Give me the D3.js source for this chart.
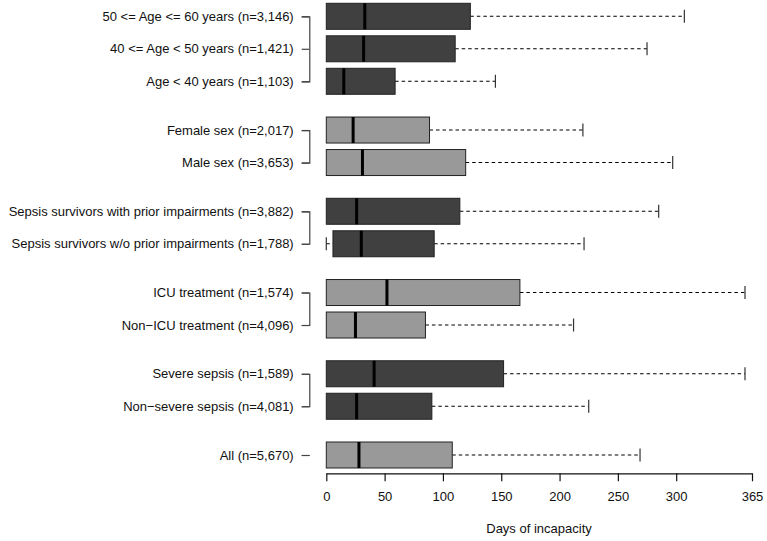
<!DOCTYPE html>
<html>
<head>
<meta charset="utf-8">
<script src="https://cdn.jsdelivr.net/npm/d3@7"></script>
<style>
  body { margin: 0; background: #fff; }
  svg { font-family: "Liberation Sans", Arial, Helvetica, sans-serif; }
</style>
</head>
<body>
<div id="chart-container"></div>
<script>
// row labels, top to bottom
const labels = [
  "50 <= Age <= 60 years (n=3,146)",
  "40 <= Age < 50 years (n=1,421)",
  "Age < 40 years (n=1,103)",
  "Female sex (n=2,017)",
  "Male sex (n=3,653)",
  "Sepsis survivors with prior impairments (n=3,882)",
  "Sepsis survivors w/o prior impairments (n=1,788)",
  "ICU treatment (n=1,574)",
  "Non\u2212ICU treatment (n=4,096)",
  "Severe sepsis (n=1,589)",
  "Non\u2212severe sepsis (n=4,081)",
  "All (n=5,670)"
];
// row slot positions (groups separated by half a slot)
const positions = [0, 1, 2, 3.5, 4.5, 6, 7, 8.5, 9.5, 11, 12, 13.5];
const groups = [[0, 1, 2], [3, 4], [5, 6], [7, 8], [9, 10], [11]];
const shade = ["dark", "dark", "dark", "light", "light", "dark", "dark", "light", "light", "dark", "dark", "light"];

// box statistics in days
const whiskerLow = [0, 0, 0, 0, 0, 0, 0, 0, 0, 0, 0, 0];
const q1 = [0, 0, 0, 0, 0, 0, 5.7, 0, 0, 0, 0, 0];
const median = [33, 32, 15, 23, 31, 26, 30, 52, 25, 41, 26, 28];
const q3 = [123.5, 110.5, 59, 88.5, 119.5, 114.5, 92.5, 166, 85, 152, 90.5, 108];
const whiskerHigh = [307, 275, 145, 220, 297, 285, 221, 359, 212, 359, 225, 269];

const xTicks = [0, 50, 100, 150, 200, 250, 300, 365];
const xTitle = "Days of incapacity";

const W = 767, H = 541;
const fills = { dark: "#404040", light: "#999999" };

const svg = d3.select("#chart-container")
  .append("svg")
  .attr("width", W)
  .attr("height", H);

const x = d3.scaleLinear().domain([0, 365]).range([326.3, 752]);
const y = d3.scaleLinear().domain([0, 13.5]).range([16.3, 455]);
const boxH = (y(1) - y(0)) * 0.8;

const rows = labels.map((label, i) => ({
  label, pos: positions[i], shade: shade[i],
  lo: whiskerLow[i], q1: q1[i], med: median[i], q3: q3[i], hi: whiskerHigh[i]
}));

const g = svg.append("g");

// dashed whiskers
g.selectAll(".whisker-hi")
  .data(rows)
  .join("line")
  .attr("x1", d => x(d.q3))
  .attr("x2", d => x(d.hi))
  .attr("y1", d => y(d.pos))
  .attr("y2", d => y(d.pos))
  .attr("stroke", "#000")
  .attr("stroke-width", 1.1)
  .attr("stroke-dasharray", "3.5,3");

g.selectAll(".whisker-lo")
  .data(rows.filter(d => d.q1 > d.lo))
  .join("line")
  .attr("x1", d => x(d.lo))
  .attr("x2", d => x(d.q1))
  .attr("y1", d => y(d.pos))
  .attr("y2", d => y(d.pos))
  .attr("stroke", "#000")
  .attr("stroke-width", 1.1)
  .attr("stroke-dasharray", "3.5,3");

// staples
g.selectAll(".cap-hi")
  .data(rows)
  .join("line")
  .attr("x1", d => x(d.hi))
  .attr("x2", d => x(d.hi))
  .attr("y1", d => y(d.pos) - boxH / 4)
  .attr("y2", d => y(d.pos) + boxH / 4)
  .attr("stroke", "#333")
  .attr("stroke-width", 1.2);

g.selectAll(".cap-lo")
  .data(rows.filter(d => d.q1 > d.lo))
  .join("line")
  .attr("x1", d => x(d.lo))
  .attr("x2", d => x(d.lo))
  .attr("y1", d => y(d.pos) - boxH / 4)
  .attr("y2", d => y(d.pos) + boxH / 4)
  .attr("stroke", "#333")
  .attr("stroke-width", 1.2);

// boxes
g.selectAll(".box")
  .data(rows)
  .join("rect")
  .attr("x", d => x(d.q1))
  .attr("y", d => y(d.pos) - boxH / 2)
  .attr("width", d => x(d.q3) - x(d.q1))
  .attr("height", boxH)
  .attr("fill", d => fills[d.shade])
  .attr("stroke", "#222")
  .attr("stroke-width", 1);

// medians
g.selectAll(".median")
  .data(rows)
  .join("line")
  .attr("x1", d => x(d.med))
  .attr("x2", d => x(d.med))
  .attr("y1", d => y(d.pos) - boxH / 2)
  .attr("y2", d => y(d.pos) + boxH / 2)
  .attr("stroke", "#000")
  .attr("stroke-width", 3);

// left bracket axes, one per group
groups.forEach(idx => {
  const ps = idx.map(i => positions[i]);
  const sub = d3.scaleLinear()
    .domain([ps[0], ps[ps.length - 1]])
    .range([y(ps[0]), y(ps[ps.length - 1])]);
  const ax = svg.append("g")
    .attr("transform", "translate(309.3,0)")
    .call(d3.axisLeft(sub)
      .tickValues(ps)
      .tickSize(7.6)
      .tickSizeOuter(7.6)
      .tickPadding(8)
      .tickFormat(p => labels[positions.indexOf(p)]));
  ax.attr("font-family", null).attr("font-size", 13);
  ax.select(".domain").attr("stroke", "#444").attr("stroke-width", 1.2);
  ax.selectAll(".tick line").attr("stroke", "#444").attr("stroke-width", 1.2);
  ax.selectAll(".tick text").attr("fill", "#111");
});

// bottom axis
const xAx = svg.append("g")
  .attr("transform", "translate(0,473.3)")
  .call(d3.axisBottom(x).tickValues(xTicks).tickSize(8).tickSizeOuter(0).tickPadding(10).tickFormat(d3.format("d")));
xAx.attr("font-family", null).attr("font-size", 13);
xAx.select(".domain").attr("stroke", "#111").attr("stroke-width", 1.2);
xAx.selectAll(".tick line").attr("stroke", "#111").attr("stroke-width", 1.2);
xAx.selectAll(".tick text").attr("fill", "#111");

svg.append("text")
  .attr("x", 539)
  .attr("y", 533)
  .attr("text-anchor", "middle")
  .attr("font-size", 13)
  .attr("fill", "#111")
  .text(xTitle);
</script>
</body>
</html>
